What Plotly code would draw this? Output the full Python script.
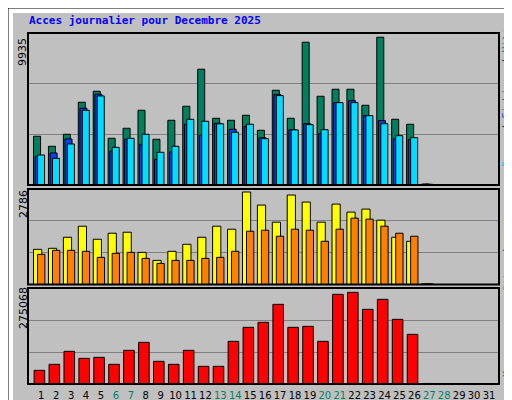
import plotly.graph_objects as go

days = list(range(1, 32))
hits = [3186,2530,3316,5408,6128,3054,3708,4885,2989,4231,5147,7567,4362,4231,4558,3577,6193,4362,9333,5801,6259,6259,5212,9659,4296,3970,60]
files = [1870,2093,3010,5016,5932,2202,2989,2660,1680,2158,3970,3250,4035,3642,3839,3094,5906,3616,4009,3355,5383,5513,4532,4205,3028,2963,50]
pages = [1960,1744,2682,4885,5820,2464,3054,3316,2138,2530,4296,4166,4000,3446,3970,3028,5841,3600,3944,3616,5383,5383,4532,4009,3224,3094,50]
visits = [1026,1056,1378,1701,1320,1496,1525,938,704,968,1173,1378,1701,1613,2698,2317,1818,2610,2405,1818,2346,2112,2200,1877,1378,1261,20]
sites = [880,997,997,968,792,909,938,762,616,704,704,762,792,968,1554,1584,1408,1613,1584,1261,1613,1936,1906,1701,1496,1408,20]
kb = [39165,56345,93590,73535,76400,56345,96455,119375,64940,56345,96455,50615,50615,122240,162350,176675,228245,162350,165215,122240,256895,262625,213920,242570,185270,142295,1500]
max_hits, max_visits, max_kb = 9935, 2786, 275068
weekend = {6, 7, 13, 14, 20, 21, 27, 28}

d = days[:len(hits)]
fig = go.Figure()
line = dict(color="black", width=1)
def bar(y, color, off, w, xa, ya):
    fig.add_trace(go.Bar(x=d, y=y, marker=dict(color=color, line=line), offset=off, width=w,
                         xaxis=xa, yaxis=ya, showlegend=False, cliponaxis=False))
bar(hits, "#007F5F", -0.52, 0.47, "x", "y")
bar(files, "#1040F0", -0.41, 0.47, "x", "y")
bar(pages, "#00DDFF", -0.25, 0.47, "x", "y")
bar(visits, "#FFFF00", -0.52, 0.55, "x2", "y2")
bar(sites, "#FF8000", -0.25, 0.49, "x2", "y2")
bar(kb, "#FF0000", -0.48, 0.71, "x3", "y3")

xr = [0.11, 31.67]
dom = [20/512, 491/512]
ticktext = [f"<span style='color:{'#008060' if x in weekend else 'black'}'>{x}</span>" for x in days]
common = dict(range=xr, domain=dom, showgrid=False, zeroline=False, showline=False)
fig.update_layout(
    xaxis=dict(**common, showticklabels=False, anchor="y"),
    xaxis2=dict(**common, showticklabels=False, anchor="y2"),
    xaxis3=dict(**common, tickvals=days, ticktext=ticktext, ticks="", anchor="y3", tickangle=0,
                automargin=False, ticklabelstandoff=4,
                tickfont=dict(family="DejaVu Sans", size=10, color="black")),
)
for name, m, dm in [("yaxis", max_hits, [1-177/400, 1-25/400]), ("yaxis2", max_visits, [1-276.5/400, 1-181/400]), ("yaxis3", max_kb, [1-376/400, 1-280/400])]:
    fig.layout[name] = dict(range=[0, m], domain=dm, tickvals=[m/3, 2*m/3], showticklabels=False,
                            gridcolor="#808080", gridwidth=1, zeroline=False, fixedrange=True)
fig.layout.yaxis2.anchor = "x2"
fig.layout.yaxis3.anchor = "x3"

shapes = [
    dict(type="rect", xref="paper", yref="paper", x0=0, x1=1, y0=0, y1=1, fillcolor="white", line=dict(color="black", width=1), layer="below"),
    dict(type="rect", xref="paper", yref="paper", x0=9/512, x1=509/512, y0=1-396/400, y1=1-9/400, fillcolor="#808080", line=dict(width=0), layer="below"),
    dict(type="rect", xref="paper", yref="paper", x0=5/512, x1=505/512, y0=1-392/400, y1=1-5/400, fillcolor="#C0C0C0", line=dict(width=0), layer="below"),
]
for y0, y1 in [(1-177/400, 1-25/400), (1-276.5/400, 1-181/400), (1-376/400, 1-280/400)]:
    shapes.append(dict(type="rect", xref="paper", yref="paper", x0=dom[0], x1=dom[1], y0=y0, y1=y1, line=dict(color="black", width=2), layer="above"))

mono = "DejaVu Sans Mono"
ann = [
    dict(text="<b>Acces journalier pour Decembre 2025</b>", x=19/512, y=1-12/400, xanchor="left", yanchor="middle",
         font=dict(family=mono, size=11, color="#0000FF")),
    dict(text=str(max_hits), x=15/512, y=1-44/400, textangle=-90, font=dict(family="DejaVu Sans", size=11, color="black")),
    dict(text=str(max_visits), x=15/512, y=1-196/400, textangle=-90, font=dict(family="DejaVu Sans", size=11, color="black")),
    dict(text=str(max_kb), x=15/512, y=1-300/400, textangle=-90, font=dict(family="DejaVu Sans", size=11, color="black")),
    dict(text="<span style='color:#00CCEE'>Pages</span><span style='color:#303030'> / </span><span style='color:#1040F0'>Fichiers</span><span style='color:#303030'> / </span><span style='color:#007F5F'>Hits</span>",
         x=499/512, y=1-90/400, textangle=-90, font=dict(family=mono, size=10)),
    dict(text="<span style='color:#FF8000'>Sites</span><span style='color:#303030'> / </span><span style='color:#E0E000'>Visites</span>",
         x=499/512, y=1-238/400, textangle=-90, font=dict(family=mono, size=10)),
    dict(text="<span style='color:#FF0000'>Ko</span>",
         x=499/512, y=1-363/400, textangle=-90, font=dict(family=mono, size=10)),
]
for a in ann:
    a.update(xref="paper", yref="paper", showarrow=False, xanchor="center", yanchor="middle") if "textangle" in a else a.update(xref="paper", yref="paper", showarrow=False)

fig.update_layout(width=512, height=400, margin=dict(l=0, r=0, t=0, b=0), barmode="overlay",
                  paper_bgcolor="white", plot_bgcolor="#C0C0C0", shapes=shapes, annotations=ann)
fig.write_html("out.html", config={"displayModeBar": False})
